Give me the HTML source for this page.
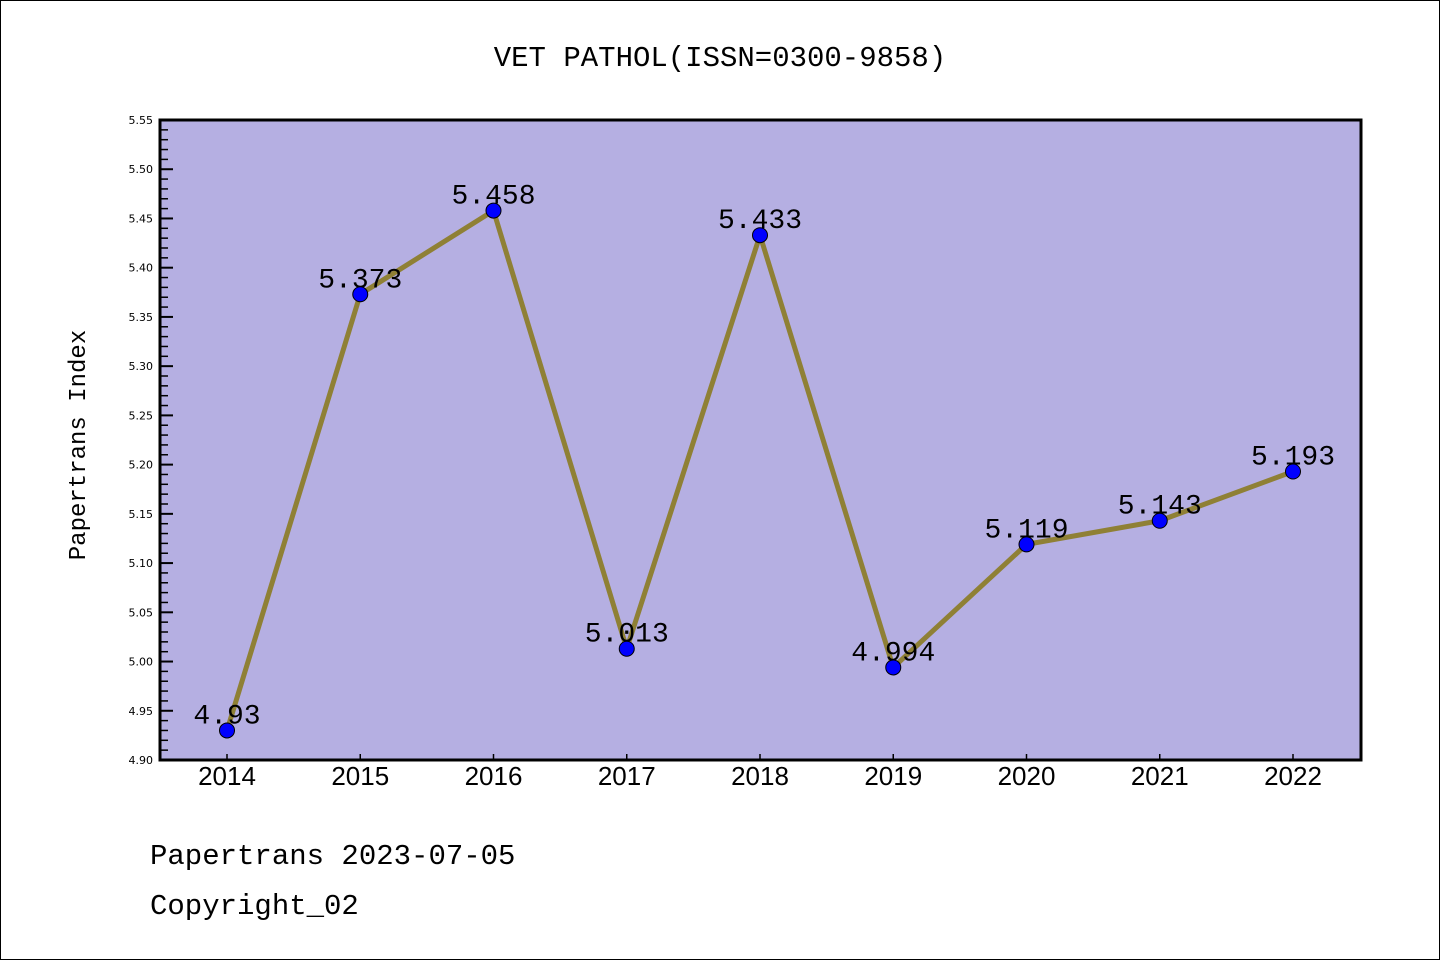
<!DOCTYPE html>
<html><head><meta charset="utf-8"><style>
html,body{margin:0;padding:0;background:#fff}
svg{display:block}
text{font-family:"Liberation Mono",monospace}
</style></head><body>
<svg width="1440" height="960" xmlns="http://www.w3.org/2000/svg">
<rect x="0.5" y="0.5" width="1439" height="959" fill="#fff" stroke="#000"/>
<text x="720" y="66" text-anchor="middle" font-size="29">VET PATHOL(ISSN=0300-9858)</text>
<rect x="160" y="120" width="1201" height="640" fill="#b5afe2"/>
<g id="yaxis"></g>
<g id="xaxis"></g>
<g id="series"></g>
<rect x="160" y="120" width="1201" height="640" fill="none" stroke="#000" stroke-width="3"/>
<text transform="translate(85,445) rotate(-90)" text-anchor="middle" font-size="24">Papertrans Index</text>
<text x="150" y="864" font-size="29">Papertrans 2023-07-05</text>
<text x="150" y="914" font-size="29">Copyright_02</text>
</svg>
<script>
const years=["2014","2015","2016","2017","2018","2019","2020","2021","2022"];
const values=[4.93,5.373,5.458,5.013,5.433,4.994,5.119,5.143,5.193];
const valueLabels=["4.93","5.373","5.458","5.013","5.433","4.994","5.119","5.143","5.193"];
const yTicks=["4.90","4.95","5.00","5.05","5.10","5.15","5.20","5.25","5.30","5.35","5.40","5.45","5.50","5.55"];
const NS="http://www.w3.org/2000/svg";
const yMin=4.90,yMax=5.55,plotTop=120,plotBot=760;
const ys=v=>plotBot-(v-yMin)/(yMax-yMin)*(plotBot-plotTop);
const xs=i=>227+i*133.25;
function mk(t,a,p){const e=document.createElementNS(NS,t);for(const k in a)e.setAttribute(k,a[k]);p.appendChild(e);return e;}
const ya=document.getElementById('yaxis'),xa=document.getElementById('xaxis'),sg=document.getElementById('series');
yTicks.forEach((t,i)=>{const v=parseFloat(t),y=ys(v);
 const l=mk('line',{x1:160,x2:173,y1:y,y2:y,stroke:'#000','stroke-width':2},ya);
 
 
 const tx=mk('text',{x:153,y:y+4,'text-anchor':'end',style:'font-family:"DejaVu Sans",sans-serif;font-size:11px'},ya);
 tx.textContent=t;
 
 
 if(i<yTicks.length-1){for(let k=1;k<5;k++){const yy=ys(v+0.01*k);
  const m=mk('line',{x1:160,x2:168,y1:yy,y2:yy,stroke:'#000','stroke-width':1.5},ya);
  
  }}
});
years.forEach((yr,i)=>{const x=xs(i);
 const l=mk('line',{x1:x,x2:x,y1:760,y2:754,stroke:'#000','stroke-width':1.5},xa);
 
 
 const t=mk('text',{x:x,y:785,'text-anchor':'middle',style:'font-family:"Liberation Sans",sans-serif;font-size:26px'},xa);
 t.textContent=yr;
 
 
});
const pl=mk('polyline',{points:values.map((v,i)=>xs(i)+','+ys(v)).join(' '),fill:'none',stroke:'#8f8035','stroke-width':5,'stroke-linejoin':'round'},sg);


values.forEach((v,i)=>{
 const t=mk('text',{x:xs(i),y:ys(v)-7,'text-anchor':'middle','font-size':28},sg);
 t.textContent=valueLabels[i];
 
 
});
values.forEach((v,i)=>{
 const c=mk('circle',{cx:xs(i),cy:ys(v),r:7.5,fill:'#0000ff',stroke:'#000','stroke-width':1},sg);
 
 
});
</script>
</body></html>
